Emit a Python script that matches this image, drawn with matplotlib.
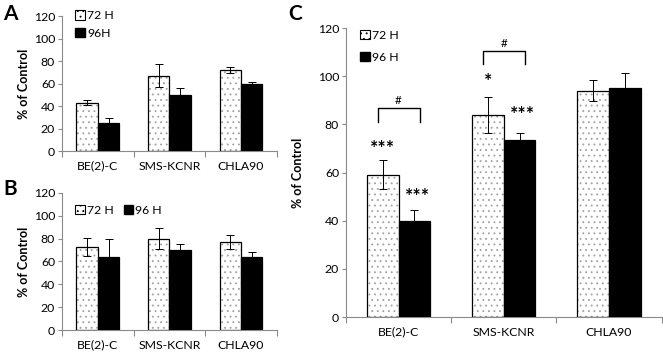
import matplotlib
matplotlib.use("Agg")
import matplotlib.pyplot as plt
from matplotlib.patches import Patch
import numpy as np

plt.rcParams['font.family'] = ['Lato', 'DejaVu Sans']
plt.rcParams['hatch.linewidth'] = 0.6

categories = ["BE(2)-C", "SMS-KCNR", "CHLA90"]

a_72 = [43, 67, 72]
a_72_err = [2, 10, 3]
a_96 = [25, 50, 60]
a_96_err = [4, 6, 1]

b_72 = [73, 80, 77]
b_72_err = [8, 9, 6]
b_96 = [64, 70, 64]
b_96_err = [16, 5, 4]

c_72 = [59, 84, 94]
c_72_err = [6, 7.5, 4.5]
c_96 = [40, 73.5, 95]
c_96_err = [4.5, 3, 6.5]

yticks = [0, 20, 40, 60, 80, 100, 120]

fig = plt.figure(figsize=(6.63, 3.55), dpi=100)

GRAY = "#8a8a8a"
BW = 0.3
FS = 8.8


def panel(ax, v72, e72, v96, e96):
    x = np.arange(len(categories))
    ax.bar(x - BW / 2, v72, BW, color="white", edgecolor="#a0a0a0", hatch="...", linewidth=0, zorder=2)
    ax.bar(x - BW / 2, v72, BW, color="none", edgecolor="black", linewidth=0.9, zorder=3)
    ax.bar(x + BW / 2, v96, BW, color="black", edgecolor="black", linewidth=0.9, zorder=3)
    ax.errorbar(x - BW / 2, v72, yerr=e72, fmt="none", ecolor="black", elinewidth=0.7, capsize=3, capthick=0.7, zorder=4)
    ax.errorbar(x + BW / 2, v96, yerr=e96, fmt="none", ecolor="black", elinewidth=0.7, capsize=3, capthick=0.7, zorder=4)
    ax.set_xlim(-0.5, len(categories) - 0.5)
    ax.set_ylim(0, 120)
    ax.set_yticks(yticks)
    ax.set_xticks(np.arange(len(categories) + 1) - 0.5)
    ax.set_xticklabels([])
    ax.set_xticks(x, minor=True)
    ax.set_xticklabels(categories, minor=True)
    ax.tick_params(axis="x", which="minor", length=0, pad=7, labelsize=FS)
    ax.tick_params(axis="x", which="major", length=4, color=GRAY, direction="out")
    ax.tick_params(axis="y", length=3, color=GRAY, labelsize=FS, pad=2)
    for s in ["top", "right"]:
        ax.spines[s].set_visible(False)
    for s in ["left", "bottom"]:
        ax.spines[s].set_color(GRAY)
        ax.spines[s].set_linewidth(0.8)
    ax.set_ylabel("% of Control", fontweight="bold", fontsize=9, labelpad=3)


def handles(l1, l2):
    return [Patch(facecolor="white", edgecolor="black", hatch="...", linewidth=0.8, label=l1),
            Patch(facecolor="black", edgecolor="black", label=l2)]


axA = fig.add_axes([0.0935, 0.5746, 0.324, 0.380])
panel(axA, a_72, a_72_err, a_96, a_96_err)
axA.legend(handles=handles("72 H", "96H"), loc="upper left", bbox_to_anchor=(0.04, 1.08),
           frameon=False, fontsize=FS, handlelength=0.8, handleheight=0.8, handletextpad=0.15,
           labelspacing=0.55, borderaxespad=0)

axB = fig.add_axes([0.0935, 0.0704, 0.324, 0.386])
panel(axB, b_72, b_72_err, b_96, b_96_err)
axB.legend(handles=handles("72 H", "96 H"), loc="upper left", bbox_to_anchor=(0.04, 0.95), ncol=2,
           frameon=False, fontsize=FS, handlelength=0.8, handleheight=0.8, handletextpad=0.15,
           columnspacing=0.8, borderaxespad=0)

axC = fig.add_axes([0.5219, 0.107, 0.476, 0.814])
panel(axC, c_72, c_72_err, c_96, c_96_err)
axC.set_ylabel("% of Control", fontweight="bold", fontsize=9, labelpad=10)
axC.legend(handles=handles("72 H", "96 H"), loc="upper left", bbox_to_anchor=(0.03, 1.01),
           frameon=False, fontsize=FS, handlelength=0.8, handleheight=0.8, handletextpad=0.15,
           labelspacing=0.9, borderaxespad=0)

# significance marks
stars_72 = ["***", "*", ""]
stars_96 = ["***", "***", ""]
stars_72_y = [70, 98, 0]
stars_96_y = [50, 84, 0]
for i in range(3):
    if stars_72[i]:
        axC.text(i - BW / 2, stars_72_y[i], stars_72[i], ha="center", va="center", fontsize=14, fontweight="bold")
    if stars_96[i]:
        axC.text(i + BW / 2 + 0.03, stars_96_y[i], stars_96[i], ha="center", va="center", fontsize=14, fontweight="bold")

bracket_cat = [0, 1]
bracket_top = [86.7, 110.5]
bracket_low = [81, 105]
for i, top, low in zip(bracket_cat, bracket_top, bracket_low):
    axC.plot([i - 0.2, i - 0.2, i + 0.2, i + 0.2], [low, top, top, low], color="black", lw=1.0)
    axC.text(i, top + 1.0, "#", ha="center", va="bottom", fontsize=8.5)

fig.text(0.005, 0.99, "A", fontsize=15, fontweight="bold", va="top", ha="left")
fig.text(0.005, 0.495, "B", fontsize=15, fontweight="bold", va="top", ha="left")
fig.text(0.435, 0.99, "C", fontsize=15, fontweight="bold", va="top", ha="left")

fig.savefig("out.png", dpi=100)
